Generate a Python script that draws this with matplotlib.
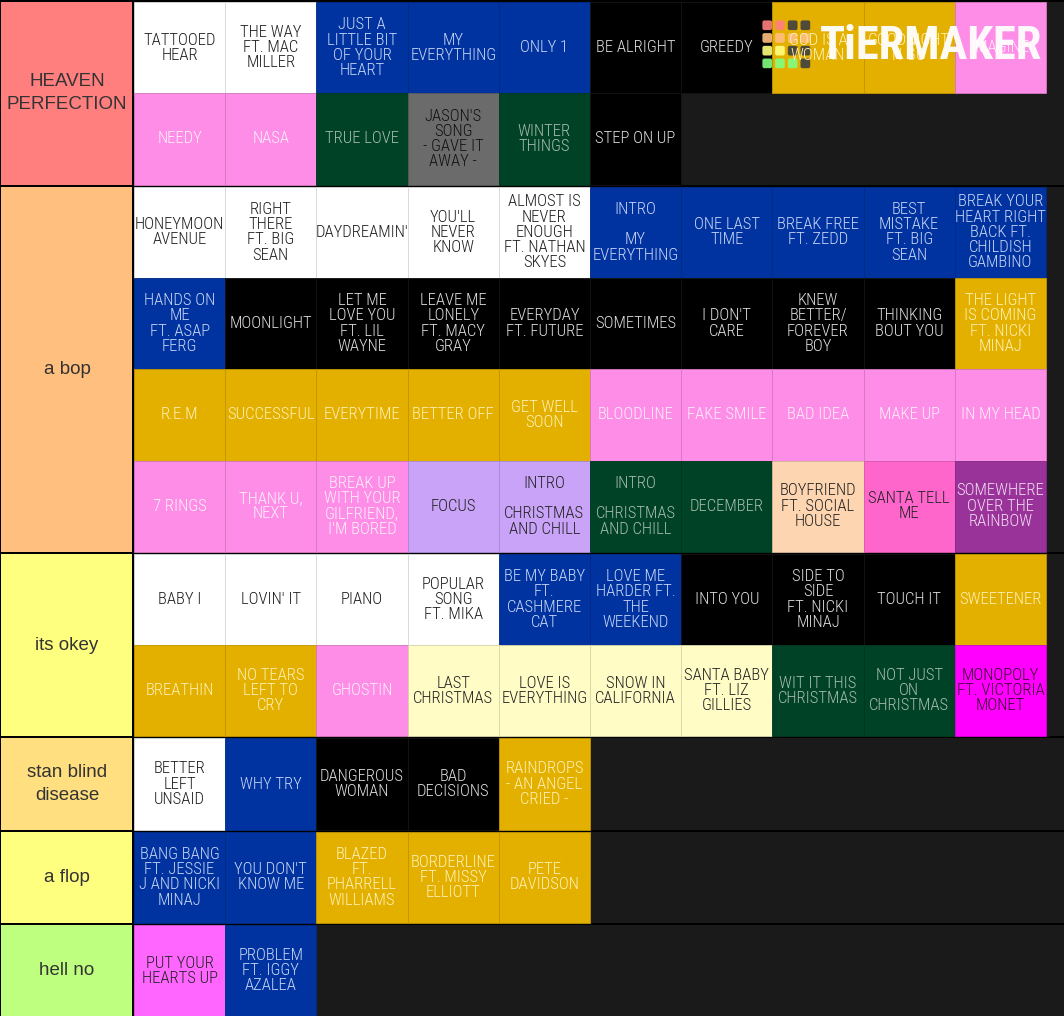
import matplotlib
matplotlib.use("Agg")
import matplotlib.pyplot as plt
from matplotlib.patches import Rectangle, FancyBboxPatch

# tier labels and colours
tier_names = ["HEAVEN\nPERFECTION", "a bop", "its okey", "stan blind\ndisease", "a flop", "hell no"]
tier_colors = ["#ff7f7f", "#ffbf7f", "#ffff7f", "#ffdf80", "#ffff7f", "#bfff7f"]
tier_rows = [2, 4, 2, 1, 1, 1]

heaven_songs = ["TATTOOED\nHEAR", "THE WAY\nFT. MAC\nMILLER", "JUST A\nLITTLE BIT\nOF YOUR\nHEART",
                "MY\nEVERYTHING", "ONLY 1", "BE ALRIGHT", "GREEDY", "GOD IS A\nWOMAN",
                "GOODNIGHT\nN GO", "IMAGINE",
                "NEEDY", "NASA", "TRUE LOVE", "JASON'S\nSONG\n- GAVE IT\nAWAY -", "WINTER\nTHINGS",
                "STEP ON UP"]
heaven_kinds = ["white", "white", "blue", "blue", "blue", "black", "black", "gold", "gold", "pink",
                "pink", "pink", "green", "gray", "green", "black"]

bop_songs = ["HONEYMOON\nAVENUE", "RIGHT\nTHERE\nFT. BIG\nSEAN", "DAYDREAMIN'", "YOU'LL\nNEVER\nKNOW",
             "ALMOST IS\nNEVER\nENOUGH\nFT. NATHAN\nSKYES", "INTRO\n\nMY\nEVERYTHING", "ONE LAST\nTIME",
             "BREAK FREE\nFT. ZEDD", "BEST\nMISTAKE\nFT. BIG\nSEAN",
             "BREAK YOUR\nHEART RIGHT\nBACK FT.\nCHILDISH\nGAMBINO",
             "HANDS ON\nME\nFT. ASAP\nFERG", "MOONLIGHT", "LET ME\nLOVE YOU\nFT. LIL\nWAYNE",
             "LEAVE ME\nLONELY\nFT. MACY\nGRAY", "EVERYDAY\nFT. FUTURE", "SOMETIMES", "I DON'T\nCARE",
             "KNEW\nBETTER/\nFOREVER\nBOY", "THINKING\nBOUT YOU", "THE LIGHT\nIS COMING\nFT. NICKI\nMINAJ",
             "R.E.M", "SUCCESSFUL", "EVERYTIME", "BETTER OFF", "GET WELL\nSOON", "BLOODLINE",
             "FAKE SMILE", "BAD IDEA", "MAKE UP", "IN MY HEAD",
             "7 RINGS", "THANK U,\nNEXT", "BREAK UP\nWITH YOUR\nGILFRIEND,\nI'M BORED", "FOCUS",
             "INTRO\n\nCHRISTMAS\nAND CHILL", "INTRO\n\nCHRISTMAS\nAND CHILL", "DECEMBER",
             "BOYFRIEND\nFT. SOCIAL\nHOUSE", "SANTA TELL\nME", "SOMEWHERE\nOVER THE\nRAINBOW"]
bop_kinds = ["white"] * 5 + ["blue"] * 5 + \
            ["blue"] + ["black"] * 8 + ["gold"] + \
            ["gold"] * 5 + ["pink"] * 5 + \
            ["pink"] * 3 + ["lavender", "lavender", "green", "green", "peach", "hotpink", "purple"]

okey_songs = ["BABY I", "LOVIN' IT", "PIANO", "POPULAR\nSONG\nFT. MIKA", "BE MY BABY\nFT.\nCASHMERE\nCAT",
              "LOVE ME\nHARDER FT.\nTHE\nWEEKEND", "INTO YOU", "SIDE TO\nSIDE\nFT. NICKI\nMINAJ", "TOUCH IT",
              "SWEETENER",
              "BREATHIN", "NO TEARS\nLEFT TO\nCRY", "GHOSTIN", "LAST\nCHRISTMAS", "LOVE IS\nEVERYTHING",
              "SNOW IN\nCALIFORNIA", "SANTA BABY\nFT. LIZ\nGILLIES", "WIT IT THIS\nCHRISTMAS",
              "NOT JUST\nON\nCHRISTMAS", "MONOPOLY\nFT. VICTORIA\nMONET"]
okey_kinds = ["white"] * 4 + ["blue"] * 2 + ["black"] * 3 + ["gold"] + \
             ["gold", "gold", "pink", "cream", "cream", "cream", "cream", "green", "green", "magenta"]

stan_songs = ["BETTER\nLEFT\nUNSAID", "WHY TRY", "DANGEROUS\nWOMAN", "BAD\nDECISIONS",
              "RAINDROPS\n- AN ANGEL\nCRIED -"]
stan_kinds = ["white", "blue", "black", "black", "gold"]

flop_songs = ["BANG BANG\nFT. JESSIE\nJ AND NICKI\nMINAJ", "YOU DON'T\nKNOW ME", "BLAZED\nFT.\nPHARRELL\nWILLIAMS",
              "BORDERLINE\nFT. MISSY\nELLIOTT", "PETE\nDAVIDSON"]
flop_kinds = ["blue", "blue", "gold", "gold", "gold"]

hell_songs = ["PUT YOUR\nHEARTS UP", "PROBLEM\nFT. IGGY\nAZALEA"]
hell_kinds = ["brightpink", "blue"]

tier_songs = [heaven_songs, bop_songs, okey_songs, stan_songs, flop_songs, hell_songs]
tier_kinds = [heaven_kinds, bop_kinds, okey_kinds, stan_kinds, flop_kinds, hell_kinds]

# tile face / text colour per album style
styles = {
    "white": ("#ffffff", "#1e1e1e"),
    "blue": ("#0033a0", "#c8d6f6"),
    "black": ("#000000", "#dedede"),
    "gold": ("#e3b000", "#fff1b5"),
    "pink": ("#fd8de6", "#fff0fb"),
    "green": ("#004225", "#a6bcac"),
    "gray": ("#6b6b6b", "#111111"),
    "lavender": ("#c8a3f8", "#222222"),
    "peach": ("#fdd5b0", "#222222"),
    "hotpink": ("#ff66cc", "#222222"),
    "purple": ("#993399", "#f3dcf3"),
    "cream": ("#fffcc6", "#222222"),
    "magenta": ("#ff00ff", "#3a0030"),
    "brightpink": ("#ff66ff", "#222222"),
}


def darker(hexcol, f=0.85):
    r, g, b = matplotlib.colors.to_rgb(hexcol)
    if hexcol == "#000000":
        return "#141414"
    return (r * f, g * f, b * f)


W, H = 1064, 1016
label_w = 132
border = 2
tile_w = 91.2
tile_h = 91.3
per_row = 10

tile_font = ["Roboto Condensed", "DejaVu Sans Condensed", "Open Sans Condensed", "Roboto", "DejaVu Sans"]
label_font = ["Liberation Sans", "DejaVu Sans"]

fig = plt.figure(figsize=(W / 100, H / 100), dpi=100)
fig.patch.set_facecolor("#000000")
ax = fig.add_axes([0, 0, 1, 1])
ax.set_xlim(0, W)
ax.set_ylim(H, 0)
ax.axis("off")

top = 0
for name, color, nrows, songs, kinds in zip(tier_names, tier_colors, tier_rows, tier_songs, tier_kinds):
    y0 = top + border
    height = nrows * tile_h
    ax.add_patch(Rectangle((1, y0), label_w - 1, height, facecolor=color, edgecolor="none"))
    ax.text(label_w / 2 + 1, y0 + height / 2, name, ha="center", va="center", fontsize=13.5,
            color="#333333", family=label_font, linespacing=1.45)
    ax.add_patch(Rectangle((label_w + border, y0), W - label_w - border, height,
                           facecolor="#1a1a1a", edgecolor="none"))
    for i, (song, kind) in enumerate(zip(songs, kinds)):
        face, txt = styles[kind]
        col = i % per_row
        row = i // per_row
        x = label_w + border + col * tile_w
        y = y0 + row * tile_h
        ax.add_patch(Rectangle((x, y), tile_w, tile_h, facecolor=face,
                               edgecolor=darker(face), linewidth=0.6))
        ax.text(x + tile_w / 2, y + tile_h / 2, song, ha="center", va="center",
                fontsize=12, color=txt, family=tile_font, fontstretch="condensed",
                fontweight="light", linespacing=1.02)
    top = y0 + height

# tiermaker watermark
logo_colors = [["#ff7f7f", "#ff7f7f", "#404040", "#404040"],
               ["#ffbf7f", "#ffbf7f", "#ffbf7f", "#ffbf7f"],
               ["#ffff7f", "#ffff7f", "#404040", "#404040"],
               ["#7fff7f", "#7fff7f", "#7fff7f", "#404040"]]
for r, row_cols in enumerate(logo_colors):
    for c, lc in enumerate(row_cols):
        ax.add_patch(FancyBboxPatch((763 + c * 12.7, 21 + r * 12.7), 8.5, 8.5,
                                    boxstyle="round,pad=0.6,rounding_size=2",
                                    facecolor=lc, edgecolor="none", alpha=0.9))
ax.text(931, 46, "TiERMAKER", ha="center", va="center", fontsize=33.5, fontweight="black",
        color="white", family=tile_font, fontstretch="condensed", alpha=0.95)

fig.savefig("out.png", dpi=100, facecolor=fig.get_facecolor())
